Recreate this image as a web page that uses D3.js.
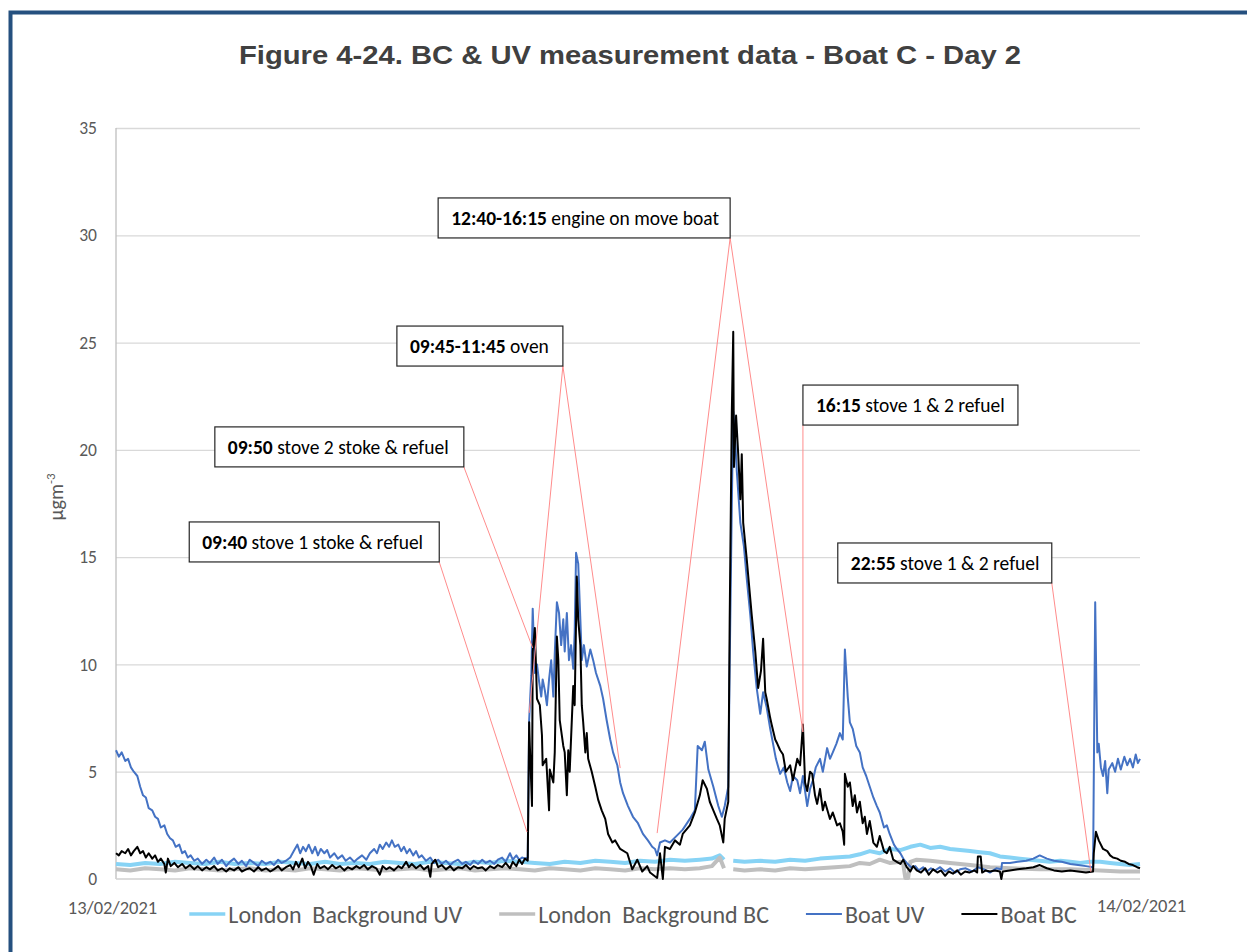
<!DOCTYPE html>
<html><head><meta charset="utf-8">
<script src="https://cdn.jsdelivr.net/npm/d3@7"></script>
<style>body{margin:0;background:#fff;} svg{display:block;}</style>
</head><body><svg id="c" width="1247" height="952"></svg>
<script>
// ---- DATA (time = minutes after midnight, 13/02/2021) ----
const yTicks = [0,5,10,15,20,25,30,35];
const dateLabels = ["13/02/2021","14/02/2021"];
const dateTicks = [0,1440];
const seriesNames = ["London  Background UV","London  Background BC","Boat UV","Boat BC"];

const londonUV = [[0,0.7],[20,0.65],[41,0.75],[62,0.7],[83,0.8],[104,0.75],[125,0.7],[146,0.8],[167,0.7],[188,0.75],[210,0.7],[231,0.8],[252,0.75],[273,0.7],[294,0.8],[315,0.7],[336,0.75],[357,0.7],[378,0.8],[399,0.75],[420,0.7],[442,0.8],[463,0.75],[484,0.7],[505,0.8],[526,0.75],[547,0.85],[568,0.8],[589,0.75],[610,0.7],[631,0.8],[653,0.75],[674,0.85],[695,0.8],[716,0.75],[737,0.85],[758,0.8],[779,0.9],[800,0.85],[821,0.9],[838,0.95],[849,1.1],[855,0.9],[860,null],[868,0.85],[884,0.8],[906,0.85],[927,0.8],[948,0.9],[969,0.85],[990,0.95],[1011,1.0],[1032,1.05],[1046,1.15],[1060,1.3],[1074,1.2],[1088,1.4],[1103,1.35],[1117,1.5],[1131,1.6],[1145,1.45],[1159,1.5],[1173,1.4],[1187,1.35],[1201,1.3],[1215,1.25],[1229,1.2],[1243,1.05],[1257,1.0],[1271,0.95],[1285,0.9],[1299,0.85],[1313,0.8],[1328,0.85],[1342,0.8],[1356,0.75],[1370,0.8],[1384,0.8],[1398,0.75],[1412,0.7],[1426,0.65],[1440,0.7]];

const londonBC = [[0,0.45],[20,0.4],[41,0.5],[62,0.45],[83,0.4],[104,0.5],[125,0.45],[146,0.4],[167,0.45],[188,0.5],[210,0.4],[231,0.45],[252,0.4],[273,0.5],[294,0.45],[315,0.4],[336,0.5],[357,0.45],[378,0.4],[399,0.45],[420,0.5],[442,0.4],[463,0.45],[484,0.5],[505,0.4],[526,0.45],[547,0.5],[568,0.45],[589,0.4],[610,0.5],[631,0.45],[653,0.4],[674,0.5],[695,0.45],[716,0.4],[737,0.5],[758,0.45],[779,0.5],[800,0.45],[821,0.5],[838,0.6],[849,1.0],[855,0.5],[860,null],[868,0.45],[884,0.4],[906,0.45],[927,0.4],[948,0.5],[969,0.45],[990,0.5],[1011,0.55],[1032,0.6],[1046,0.75],[1060,0.7],[1074,0.9],[1088,0.75],[1103,0.8],[1107,0.7],[1110,0.05],[1114,0.05],[1117,0.8],[1126,0.9],[1145,0.85],[1173,0.75],[1201,0.65],[1229,0.55],[1257,0.5],[1299,0.45],[1342,0.45],[1384,0.4],[1412,0.35],[1440,0.35]];

const boatUV = [[0,6.0],[4,5.7],[8,5.9],[13,5.5],[17,5.6],[21,5.2],[25,5.0],[30,4.8],[34,4.3],[38,3.9],[42,3.8],[46,3.3],[51,3.2],[55,2.9],[59,2.8],[63,2.4],[68,2.5],[72,2.1],[76,1.9],[80,1.8],[84,1.5],[89,1.6],[93,1.2],[97,1.3],[101,1.0],[105,1.1],[110,0.85],[115,0.95],[121,0.7],[127,0.9],[132,0.75],[138,1.0],[143,0.7],[149,0.9],[155,0.6],[160,0.8],[166,0.95],[172,0.7],[177,0.85],[183,0.6],[188,0.9],[194,0.75],[200,0.6],[205,0.85],[211,0.7],[217,0.8],[222,0.65],[228,0.9],[233,0.75],[239,0.85],[245,1.0],[250,1.3],[255,1.6],[259,1.2],[263,1.5],[267,1.3],[271,1.6],[276,1.2],[280,1.5],[284,1.1],[288,1.4],[293,1.2],[297,1.35],[301,1.0],[307,1.2],[312,0.95],[318,1.1],[323,0.85],[329,1.0],[335,0.8],[340,0.95],[346,1.1],[352,0.9],[357,1.2],[363,1.4],[367,1.2],[371,1.6],[375,1.4],[380,1.7],[384,1.5],[388,1.8],[392,1.5],[397,1.6],[401,1.3],[405,1.5],[409,1.2],[413,1.4],[418,1.1],[422,1.3],[426,1.0],[430,1.1],[436,0.85],[442,1.0],[447,0.75],[453,0.9],[458,0.7],[464,0.85],[470,0.65],[475,0.8],[481,0.9],[487,0.7],[492,0.8],[498,0.65],[503,0.85],[509,0.7],[515,0.9],[520,0.75],[526,0.85],[532,0.7],[537,0.9],[543,1.0],[548,0.8],[554,1.2],[558,0.9],[563,1.1],[567,0.9],[571,1.0],[575,0.95],[579,1.0],[581,7.4],[584,9.5],[586,12.6],[589,9.6],[592,10.0],[595,9.2],[598,8.5],[600,9.3],[603,8.8],[606,8.1],[609,9.3],[612,10.2],[615,8.5],[617,10.5],[620,12.9],[623,12.4],[626,10.9],[629,12.1],[631,10.6],[634,12.4],[637,10.2],[640,10.9],[643,9.8],[645,11.5],[647,15.2],[650,14.7],[653,12.1],[655,10.2],[658,10.9],[662,9.9],[667,10.7],[671,10.2],[675,9.6],[681,9.0],[685,8.4],[690,7.4],[695,6.5],[699,5.9],[705,5.3],[709,4.5],[713,4.0],[720,3.4],[727,2.9],[734,2.6],[741,2.1],[748,1.8],[754,1.5],[758,1.4],[761,1.1],[765,1.7],[772,1.8],[779,1.7],[788,2.0],[797,2.3],[807,2.8],[814,3.2],[818,6.2],[824,6.0],[828,6.4],[833,5.1],[840,4.3],[847,3.4],[852,2.9],[856,3.4],[861,4.3],[863,10.0],[866,17.5],[868,21.8],[870,21.0],[873,19.0],[878,16.6],[883,15.5],[887,14.0],[892,12.3],[896,10.6],[901,8.9],[906,7.7],[910,8.7],[915,8.0],[920,7.0],[924,6.3],[928,5.6],[934,4.9],[939,5.2],[944,4.5],[948,4.1],[952,4.8],[958,4.6],[962,4.0],[966,4.8],[972,3.4],[976,4.2],[980,4.6],[984,5.2],[990,5.6],[994,5.0],[1000,6.1],[1004,5.6],[1008,5.9],[1013,6.3],[1018,6.8],[1022,6.5],[1025,10.7],[1029,8.5],[1032,7.3],[1036,7.0],[1041,6.2],[1046,5.9],[1050,5.2],[1055,4.8],[1060,4.3],[1065,3.8],[1070,3.4],[1074,3.1],[1080,2.4],[1084,2.5],[1088,2.1],[1094,1.6],[1098,1.4],[1103,1.2],[1108,0.9],[1112,0.75],[1118,0.55],[1124,0.6],[1129,0.4],[1135,0.55],[1140,0.35],[1146,0.5],[1152,0.4],[1159,0.55],[1166,0.35],[1173,0.5],[1180,0.3],[1187,0.45],[1195,0.5],[1204,0.35],[1212,0.55],[1221,0.45],[1229,0.3],[1238,0.5],[1245,0.45],[1246,0.75],[1257,0.75],[1268,0.8],[1280,0.85],[1290,0.95],[1299,1.1],[1309,0.95],[1319,0.85],[1330,0.8],[1342,0.7],[1353,0.65],[1364,0.6],[1374,0.55],[1377,12.9],[1380,5.9],[1382,6.3],[1385,5.2],[1388,4.8],[1391,5.5],[1394,4.0],[1396,5.1],[1401,5.4],[1405,5.0],[1409,5.6],[1413,5.1],[1418,5.7],[1422,5.3],[1426,5.6],[1430,5.2],[1434,5.8],[1437,5.4],[1440,5.6]];

const boatBC = [[0,1.2],[4,1.1],[8,1.3],[13,1.2],[17,1.4],[21,1.1],[25,1.3],[30,1.5],[34,1.2],[38,1.3],[42,1.0],[46,1.2],[51,0.95],[55,1.1],[59,0.8],[63,0.95],[68,0.7],[70,0.3],[73,0.95],[77,0.6],[82,0.75],[87,0.55],[93,0.7],[98,0.5],[104,0.65],[110,0.45],[115,0.6],[121,0.4],[127,0.55],[132,0.45],[138,0.6],[143,0.4],[149,0.5],[155,0.35],[160,0.5],[166,0.4],[172,0.55],[177,0.35],[183,0.45],[188,0.5],[194,0.35],[200,0.55],[205,0.4],[211,0.5],[217,0.35],[222,0.45],[228,0.6],[233,0.4],[239,0.55],[245,0.65],[249,0.45],[253,0.8],[257,0.55],[262,0.95],[266,0.5],[270,0.8],[274,0.6],[278,0.2],[283,0.7],[287,0.5],[293,0.6],[298,0.45],[304,0.65],[309,0.5],[315,0.6],[321,0.4],[326,0.55],[332,0.45],[338,0.6],[343,0.5],[349,0.65],[354,0.45],[360,0.6],[366,0.5],[371,0.2],[375,0.6],[380,0.45],[385,0.55],[391,0.4],[397,0.6],[402,0.5],[408,0.8],[412,0.55],[416,0.7],[422,0.5],[428,0.65],[433,0.45],[439,0.6],[442,0.1],[444,0.7],[449,0.9],[453,0.55],[458,0.65],[464,0.45],[470,0.6],[475,0.4],[481,0.55],[487,0.5],[492,0.65],[498,0.45],[503,0.6],[509,0.5],[515,0.55],[520,0.4],[526,0.6],[532,0.5],[537,0.65],[543,0.55],[548,0.75],[554,0.5],[558,0.8],[563,0.6],[567,0.9],[571,0.7],[575,0.95],[579,0.85],[581,7.3],[582,6.2],[585,3.4],[586,10.6],[589,11.7],[591,9.5],[592,8.4],[596,8.1],[599,6.7],[600,5.3],[605,5.6],[609,3.2],[610,5.1],[615,4.5],[617,5.9],[620,11.3],[622,10.2],[624,7.4],[629,6.2],[631,5.9],[634,3.9],[636,6.0],[638,5.0],[643,9.0],[645,8.1],[648,14.1],[650,12.1],[653,10.9],[655,8.1],[657,7.3],[660,5.9],[662,6.8],[664,5.6],[669,5.0],[674,4.3],[678,3.7],[683,3.2],[688,2.8],[692,2.1],[698,1.7],[702,1.8],[709,1.4],[719,1.2],[726,0.45],[733,0.9],[740,0.35],[747,0.6],[751,0.3],[761,0.05],[765,1.2],[769,0.0],[772,1.5],[779,1.4],[786,1.8],[793,1.6],[797,2.1],[807,2.5],[814,3.1],[821,3.9],[825,4.6],[831,4.2],[835,3.6],[840,3.2],[845,2.8],[849,2.5],[854,1.7],[856,2.8],[861,3.6],[863,12.1],[866,21.8],[868,25.5],[869,19.2],[872,21.6],[875,19.8],[878,17.7],[880,19.8],[882,16.6],[887,14.9],[894,12.3],[899,10.6],[903,8.9],[907,9.7],[910,11.2],[913,8.7],[915,8.4],[920,7.5],[922,7.2],[927,6.5],[930,6.3],[934,6.0],[938,5.8],[942,5.0],[948,5.3],[952,4.6],[958,5.6],[962,5.3],[966,7.2],[969,4.5],[972,4.1],[976,5.0],[979,4.9],[983,3.9],[986,3.5],[990,4.2],[994,3.2],[997,3.6],[1004,2.8],[1008,3.1],[1014,2.5],[1018,2.6],[1022,2.2],[1024,1.6],[1025,4.9],[1029,4.3],[1032,4.5],[1036,3.4],[1039,3.9],[1042,3.1],[1046,3.6],[1050,2.6],[1053,2.9],[1056,2.1],[1060,2.7],[1065,1.7],[1070,1.5],[1074,2.0],[1080,1.3],[1084,1.2],[1088,1.5],[1093,0.9],[1098,0.8],[1103,0.7],[1107,0.9],[1112,0.55],[1117,0.35],[1121,0.6],[1126,0.4],[1132,0.3],[1138,0.5],[1143,0.2],[1149,0.45],[1155,0.3],[1160,0.4],[1166,0.15],[1171,0.35],[1177,0.25],[1183,0.4],[1188,0.2],[1194,0.35],[1200,0.3],[1207,0.4],[1211,0.3],[1212,1.05],[1216,1.05],[1218,0.3],[1223,0.4],[1229,0.35],[1236,0.4],[1243,0.35],[1245,0.0],[1247,0.35],[1257,0.4],[1268,0.45],[1280,0.5],[1290,0.55],[1299,0.65],[1309,0.5],[1319,0.4],[1330,0.35],[1342,0.4],[1353,0.35],[1364,0.3],[1374,0.35],[1375,1.2],[1378,2.2],[1382,1.8],[1388,1.4],[1394,1.3],[1398,1.1],[1402,1.0],[1408,0.95],[1413,0.85],[1419,0.8],[1424,0.7],[1430,0.65],[1436,0.55],[1440,0.5]];

// annotations: bold time, text, leader targets [minute, value]
const annoTimes = ["09:40","09:50","09:45-11:45","12:40-16:15","16:15","22:55"];
const annoTexts = ["stove 1 stoke & refuel","stove 2 stoke & refuel","oven","engine on move boat","stove 1 & 2 refuel","stove 1 & 2 refuel"];
const annoTargets = [[[578,2.19]],[[586,10.77]],[[581,7.74],[709,5.17]],[[761,2.14],[966,6.85]],[[966,6.85]],[[1371,0.33]]];

// ---- LAYOUT / STYLE ----
const annoBoxAt = [[103,16.64],[139,21.07],[395,25.77],[453,31.74],[966,23.02],[1015,15.66]]; // top-left anchor (minute, value)
const annoBoxW = [250,249,166,292,215,214];
const annoCorner = ["right","right","right","right","left","right"];
const seriesStyle = [
  {color:"#87D3F5", width:4},
  {color:"#BFBFBF", width:4},
  {color:"#4472C4", width:2},
  {color:"#000000", width:2}
];
const calib = "Carlito, Calibri, Lato, sans-serif";

const svg = d3.select("#c");
const x = d3.scaleLinear().domain([0,1440]).range([116,1140]);
const y = d3.scaleLinear().domain([0,35]).range([879,128]);

// frame
svg.append("rect").attr("x",10.5).attr("y",12.5).attr("width",1400).attr("height",1100)
  .attr("fill","none").attr("stroke","#25507F").attr("stroke-width",4);

// title
svg.append("text").attr("x",630).attr("y",64).attr("text-anchor","middle")
  .attr("font-family","Liberation Sans, Arial, sans-serif").attr("font-weight","bold")
  .attr("font-size",26).attr("fill","#404040")
  .attr("textLength",782).attr("lengthAdjust","spacingAndGlyphs")
  .text("Figure 4-24. BC & UV measurement data - Boat C - Day 2");

// gridlines
const grid = svg.append("g").attr("transform","translate(116,0)")
  .call(d3.axisLeft(y).tickValues(yTicks.filter(d=>d>0)).tickSize(-1024).tickFormat(""));
grid.select(".domain").remove();
grid.selectAll("line").attr("stroke","#D9D9D9").attr("stroke-width",1.3);

// y axis labels
const ya = svg.append("g").attr("transform","translate(116,0)")
  .call(d3.axisLeft(y).tickValues(yTicks).tickSize(0).tickPadding(19));
ya.select(".domain").remove();
ya.selectAll("text").attr("font-family",calib).attr("font-size",17.5).attr("fill","#595959");

// axis lines
svg.append("line").attr("x1",116).attr("x2",116).attr("y1",y(35)).attr("y2",y(0)).attr("stroke","#BFBFBF").attr("stroke-width",1.3);
svg.append("line").attr("x1",116).attr("x2",1140).attr("y1",y(0)).attr("y2",y(0)).attr("stroke","#D0D0D0").attr("stroke-width",1.3);

// x axis date labels
const xa = svg.append("g").attr("transform",`translate(0,${y(0)})`)
  .call(d3.axisBottom(x).tickValues(dateTicks).tickSize(0).tickPadding(22).tickFormat((d,i)=>dateLabels[i]));
xa.select(".domain").remove();
xa.selectAll("text").attr("font-family",calib).attr("font-size",18.5).attr("fill","#595959")
  .attr("dx",(d,i)=> i===0 ? -4 : 1).attr("dy",(d,i)=> i===0 ? "0.71em" : "0.62em");

// y axis title
const yt = svg.append("text").attr("transform","translate(63,497) rotate(-90)")
  .attr("text-anchor","middle").attr("font-family",calib).attr("font-size",20).attr("fill","#595959");
yt.append("tspan").text("µgm");
yt.append("tspan").attr("dy",-8).attr("font-size",13).text("-3");

// series
const line = d3.line().defined(d=>d[1]!==null).x(d=>x(d[0])).y(d=>y(d[1]));
[londonUV, londonBC, boatUV, boatBC].forEach((s,i)=>{
  svg.append("path").datum(s).attr("d",line).attr("fill","none")
    .attr("stroke",seriesStyle[i].color).attr("stroke-width",seriesStyle[i].width)
    .attr("stroke-linejoin","round");
});

// annotations
annoTimes.forEach((t,i)=>{
  const bx = x(annoBoxAt[i][0]), by = y(annoBoxAt[i][1]);
  const bw = annoBoxW[i], bh = 40;
  const cx = annoCorner[i]==="right" ? bx+bw : bx;
  const cy = by+bh;
  annoTargets[i].forEach(p=>{
    svg.append("line").attr("x1",cx).attr("y1",cy).attr("x2",x(p[0])).attr("y2",y(p[1]))
      .attr("stroke","#FF8C8C").attr("stroke-width",1);
  });
});
annoTimes.forEach((t,i)=>{
  const bx = x(annoBoxAt[i][0]), by = y(annoBoxAt[i][1]);
  const bw = annoBoxW[i], bh = 40;
  svg.append("rect").attr("x",bx).attr("y",by).attr("width",bw).attr("height",bh)
    .attr("fill","#fff").attr("stroke","#262626").attr("stroke-width",1.2);
  const tx = svg.append("text").attr("x",bx+13).attr("y",by+27)
    .attr("font-family",calib).attr("font-size",19.5).attr("fill","#000");
  tx.append("tspan").attr("font-weight","bold").text(t);
  tx.append("tspan").text(" " + annoTexts[i]);
});

// legend
const lg = svg.append("g");
let lx = 0;
seriesNames.forEach((n,i)=>{
  const g = lg.append("g").attr("transform",`translate(${lx},0)`);
  g.append("line").attr("x1",0).attr("x2",36).attr("y1",0).attr("y2",0)
    .attr("stroke",seriesStyle[i].color).attr("stroke-width",seriesStyle[i].width===4?3.5:2);
  const tt = g.append("text").attr("x",39).attr("y",8.5).attr("font-family",calib)
    .attr("font-size",24).attr("fill","#595959").style("white-space","pre").text(n);
  const w = tt.node().getComputedTextLength();
  lx += 39 + w + 37;
});
const totalW = lx - 37;
lg.attr("transform",`translate(${633 - totalW/2},914)`);
</script></body></html>
